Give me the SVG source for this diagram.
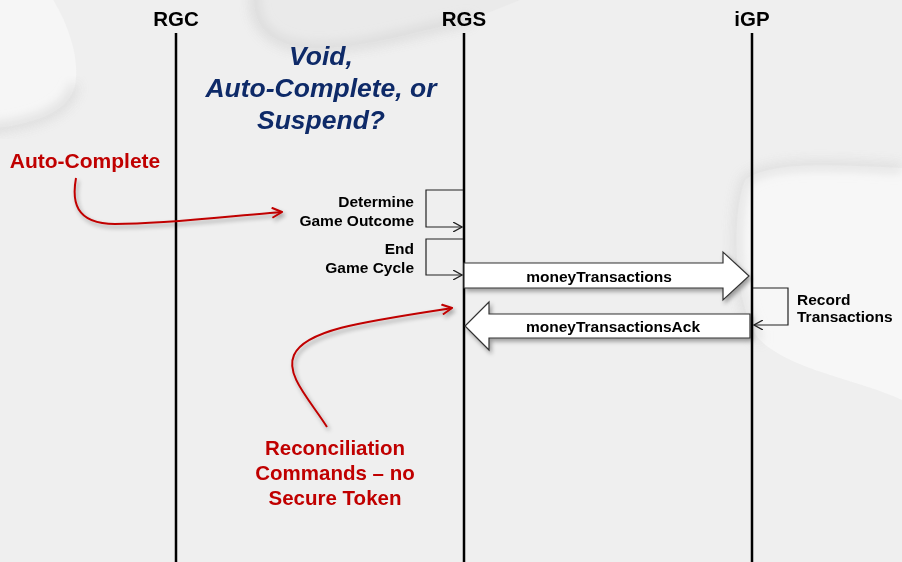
<svg xmlns="http://www.w3.org/2000/svg" width="902" height="562" viewBox="0 0 902 562">
<defs>
<style>
.life{stroke:#000;stroke-width:2.5;fill:none}
.head{font-family:"Liberation Sans",Arial,sans-serif;font-weight:bold;font-size:20.5px;fill:#000;text-anchor:middle}
.title{font-family:"Liberation Sans",Arial,sans-serif;font-weight:bold;font-style:italic;font-size:26.5px;fill:#0e2a68;text-anchor:middle}
.red{font-family:"Liberation Sans",Arial,sans-serif;font-weight:bold;fill:#c00000;text-anchor:middle}
.lbl{font-family:"Liberation Sans",Arial,sans-serif;font-weight:bold;font-size:15.5px;fill:#000}
.loop{stroke:#222;stroke-width:1.2;fill:none}
.big{fill:#fff;stroke:#333;stroke-width:1.2;filter:url(#sh)}
.rc{stroke:#c00000;stroke-width:2;fill:none;filter:url(#sh)}
</style>
<filter id="sh" x="-20%" y="-20%" width="140%" height="140%">
<feDropShadow dx="2" dy="3" stdDeviation="2" flood-color="#000" flood-opacity="0.35"/>
</filter>
<filter id="soft" x="-20%" y="-20%" width="140%" height="140%">
<feGaussianBlur stdDeviation="6"/>
</filter>
<marker id="open" viewBox="0 0 10 10" refX="9" refY="5" markerWidth="10" markerHeight="10" markerUnits="userSpaceOnUse" orient="auto">
<path d="M0,0 L9,5 L0,10" fill="none" stroke="#222" stroke-width="1.3"/>
</marker>
<marker id="redopen" viewBox="0 0 12 12" refX="11" refY="6" markerWidth="12" markerHeight="12" markerUnits="userSpaceOnUse" orient="auto">
<path d="M1,1 L11,6 L1,11" fill="none" stroke="#c00000" stroke-width="2"/>
</marker>
</defs>
<rect width="902" height="562" fill="#efefef"/>
<g id="background" opacity="0.9">
<path d="M-20,-20 L40,-20 C70,20 80,60 75,85 C68,115 30,125 -20,130 Z" fill="#f6f6f6"/>
<path d="M-20,130 C30,125 68,115 75,85" fill="none" stroke="#cfcfcf" stroke-width="6" filter="url(#soft)"/>
<path d="M255,-10 C250,25 270,45 310,48 C360,50 420,30 470,20 L520,0 Z" fill="#e9e9e9"/>
<path d="M255,-10 C250,25 270,45 310,48 C360,50 420,30 470,20" fill="none" stroke="#cdcdcd" stroke-width="6" filter="url(#soft)"/>
<path d="M745,180 C770,160 840,165 902,168 L902,400 C860,380 790,370 760,340 C735,310 730,220 745,180 Z" fill="#f8f8f8"/>
<path d="M902,168 C840,165 770,160 745,180 C730,220 735,310 760,340" fill="none" stroke="#d2d2d2" stroke-width="6" filter="url(#soft)"/>
</g>
<g id="RGC">
<text class="head" x="176" y="26">RGC</text>
<line class="life" x1="176" y1="33" x2="176" y2="562"/>
</g>
<g id="RGS">
<text class="head" x="464" y="26">RGS</text>
<line class="life" x1="464" y1="33" x2="464" y2="562"/>
</g>
<g id="iGP">
<text class="head" x="752" y="26">iGP</text>
<line class="life" x1="752" y1="33" x2="752" y2="562"/>
</g>
<g id="title">
<text class="title" x="321" y="65">Void,</text>
<text class="title" x="321" y="97">Auto-Complete, or</text>
<text class="title" x="321" y="129">Suspend?</text>
</g>
<g id="autocomplete-note">
<text class="red" x="85" y="168" font-size="21">Auto-Complete</text>
</g>
<g id="reconciliation-note">
<text class="red" x="335" y="455" font-size="20.5">Reconciliation</text>
<text class="red" x="335" y="480" font-size="20.5">Commands – no</text>
<text class="red" x="335" y="505" font-size="20.5">Secure Token</text>
</g>
<g id="determine">
<text class="lbl" x="414" y="207" text-anchor="end">Determine</text>
<text class="lbl" x="414" y="226" text-anchor="end">Game Outcome</text>
</g>
<g id="endcycle">
<text class="lbl" x="414" y="254" text-anchor="end">End</text>
<text class="lbl" x="414" y="273" text-anchor="end">Game Cycle</text>
</g>
<g id="record">
<text class="lbl" x="797" y="305">Record</text>
<text class="lbl" x="797" y="322">Transactions</text>
</g>
<g id="connectors">
<path class="loop" d="M463,190 H426 V227 H462" marker-end="url(#open)"/>
<path class="loop" d="M463,239 H426 V275 H462" marker-end="url(#open)"/>
<path class="loop" d="M753,288 H788 V325 H754" marker-end="url(#open)"/>
<path class="big" d="M464,263 H723 V252 L749,276 L723,300 V288 H464 Z"/>
<text class="lbl" x="599" y="282" text-anchor="middle">moneyTransactions</text>
<path class="big" d="M750,314 H489 V302 L465,326 L489,350 V338 H750 Z"/>
<text class="lbl" x="613" y="332" text-anchor="middle">moneyTransactionsAck</text>
<path class="rc" d="M76,178 C72,200 74,224 115,224 C170,224 230,216 282,212" marker-end="url(#redopen)"/>
<path class="rc" d="M327,427 C310,400 285,375 294,355 C305,330 360,322 452,308" marker-end="url(#redopen)"/>
</g>
</svg>
